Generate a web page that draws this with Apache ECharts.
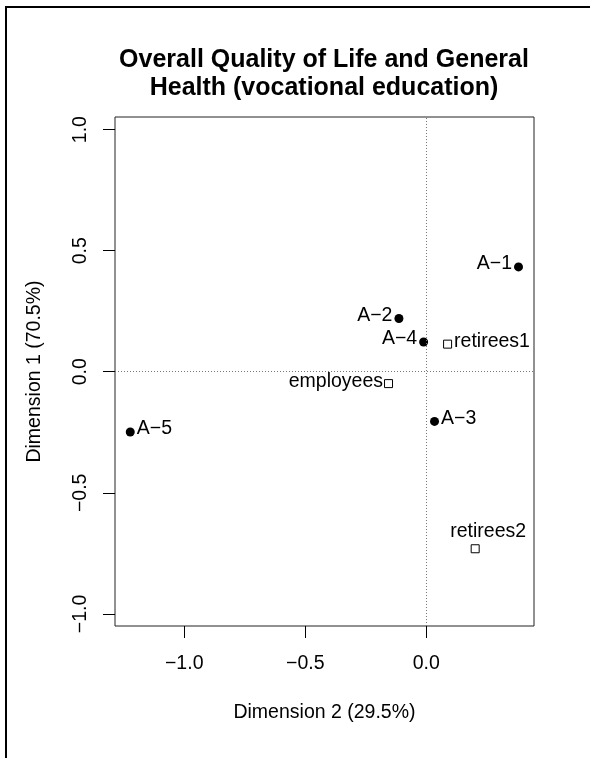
<!DOCTYPE html>
<html>
<head>
<meta charset="utf-8">
<script src="https://cdn.jsdelivr.net/npm/echarts@6/dist/echarts.min.js"></script>
<style>
  html, body { margin: 0; padding: 0; background: #fff; }
  #chart { width: 590px; height: 758px; }
</style>
</head>
<body>
<div id="chart"></div>
<script>
// Correspondence analysis map: row profiles (A-1..A-5) and column profiles (groups)
const rowNames = ['A\u22121', 'A\u22122', 'A\u22123', 'A\u22124', 'A\u22125'];
const rowDim2 = [0.381, -0.113, 0.034, -0.011, -1.223];
const rowDim1 = [0.433, 0.220, -0.205, 0.123, -0.249];

const colNames = ['employees', 'retirees1', 'retirees2'];
const colDim2 = [-0.156, 0.088, 0.202];
const colDim1 = [-0.049, 0.114, -0.731];

const xTicks = [-1.0, -0.5, 0.0];
const yTicks = [-1.0, -0.5, 0.0, 0.5, 1.0];

const FONT = '"Liberation Sans", Arial, Helvetica, sans-serif';
const FS = 19.5;

// where each point's text sits relative to its marker
const placement = {
  'A\u22121': { position: 'left', distance: 2, offset: [0, -3] },
  'A\u22122': { position: 'left', distance: 2, offset: [0, -3] },
  'A\u22123': { position: 'right', distance: 2, offset: [0, -3] },
  'A\u22124': { position: 'left', distance: 2, offset: [0, -3] },
  'A\u22125': { position: 'right', distance: 2, offset: [0, -3] },
  'employees': { position: 'left', distance: 1, offset: [0, -2] },
  'retirees1': { position: 'right', distance: 2, offset: [0, -3] },
  'retirees2': { position: 'top', distance: 3, offset: [13, 0] }
};

function items(names, xs, ys) {
  return names.map((n, i) => ({
    name: n,
    value: [xs[i], ys[i]],
    label: Object.assign({ show: true, formatter: '{b}' }, placement[n])
  }));
}

const fmt = v => v.toFixed(1).replace('-', '\u2212');

const chart = echarts.init(document.getElementById('chart'), null, { renderer: 'canvas' });

chart.setOption({
  animation: false,
  backgroundColor: '#ffffff',
  textStyle: { fontFamily: FONT },
  title: {
    text: 'Overall Quality of Life and General\nHealth (vocational education)',
    left: 324,
    top: 46,
    padding: 0,
    textAlign: 'center',
    textStyle: {
      fontFamily: FONT,
      fontWeight: 'bold',
      fontSize: 25,
      lineHeight: 28,
      color: '#000'
    }
  },
  graphic: [
    { type: 'rect', shape: { x: 5, y: 6, width: 585, height: 2 }, style: { fill: '#000' } },
    { type: 'rect', shape: { x: 5, y: 6, width: 2, height: 752 }, style: { fill: '#000' } }
  ],
  grid: {
    left: 115,
    right: 56,
    top: 117,
    bottom: 132,
    show: true,
    borderColor: '#222',
    borderWidth: 1,
    backgroundColor: 'transparent'
  },
  xAxis: {
    type: 'value',
    min: -1.286,
    max: 0.445,
    name: 'Dimension 2 (29.5%)',
    nameLocation: 'middle',
    nameGap: 77,
    nameTextStyle: { fontFamily: FONT, fontSize: FS, color: '#000' },
    axisLine: { show: false, onZero: false },
    splitLine: { show: false },
    axisTick: {
      show: true, length: 12, inside: false,
      customValues: xTicks,
      lineStyle: { color: '#000', width: 1 }
    },
    axisLabel: {
      show: true, margin: 28, color: '#000',
      fontFamily: FONT, fontSize: FS,
      customValues: xTicks,
      formatter: fmt
    }
  },
  yAxis: {
    type: 'value',
    min: -1.05,
    max: 1.052,
    name: 'Dimension 1 (70.5%)',
    nameLocation: 'middle',
    nameGap: 70,
    nameTextStyle: { fontFamily: FONT, fontSize: FS, color: '#000' },
    axisLine: { show: false, onZero: false },
    splitLine: { show: false },
    axisTick: {
      show: true, length: 12, inside: false,
      customValues: yTicks,
      lineStyle: { color: '#000', width: 1 }
    },
    axisLabel: {
      show: true, margin: 24, rotate: 90, color: '#000',
      fontFamily: FONT, fontSize: FS,
      customValues: yTicks,
      formatter: fmt
    }
  },
  series: [
    {
      name: 'rows',
      type: 'scatter',
      symbol: 'circle',
      symbolSize: 9,
      itemStyle: { color: '#000', opacity: 1 },
      label: { color: '#000', fontFamily: FONT, fontSize: FS },
      data: items(rowNames, rowDim2, rowDim1),
      markLine: {
        silent: true,
        symbol: 'none',
        label: { show: false },
        lineStyle: { color: '#777', type: [1, 2], width: 1, opacity: 1 },
        data: [{ xAxis: 0 }, { yAxis: 0 }]
      },
      z: 3
    },
    {
      name: 'columns',
      type: 'scatter',
      symbol: 'rect',
      symbolSize: 8,
      itemStyle: { color: '#fff', borderColor: '#000', borderWidth: 1, opacity: 1 },
      label: { color: '#000', fontFamily: FONT, fontSize: FS },
      data: items(colNames, colDim2, colDim1),
      z: 3
    }
  ]
});
</script>
</body>
</html>
